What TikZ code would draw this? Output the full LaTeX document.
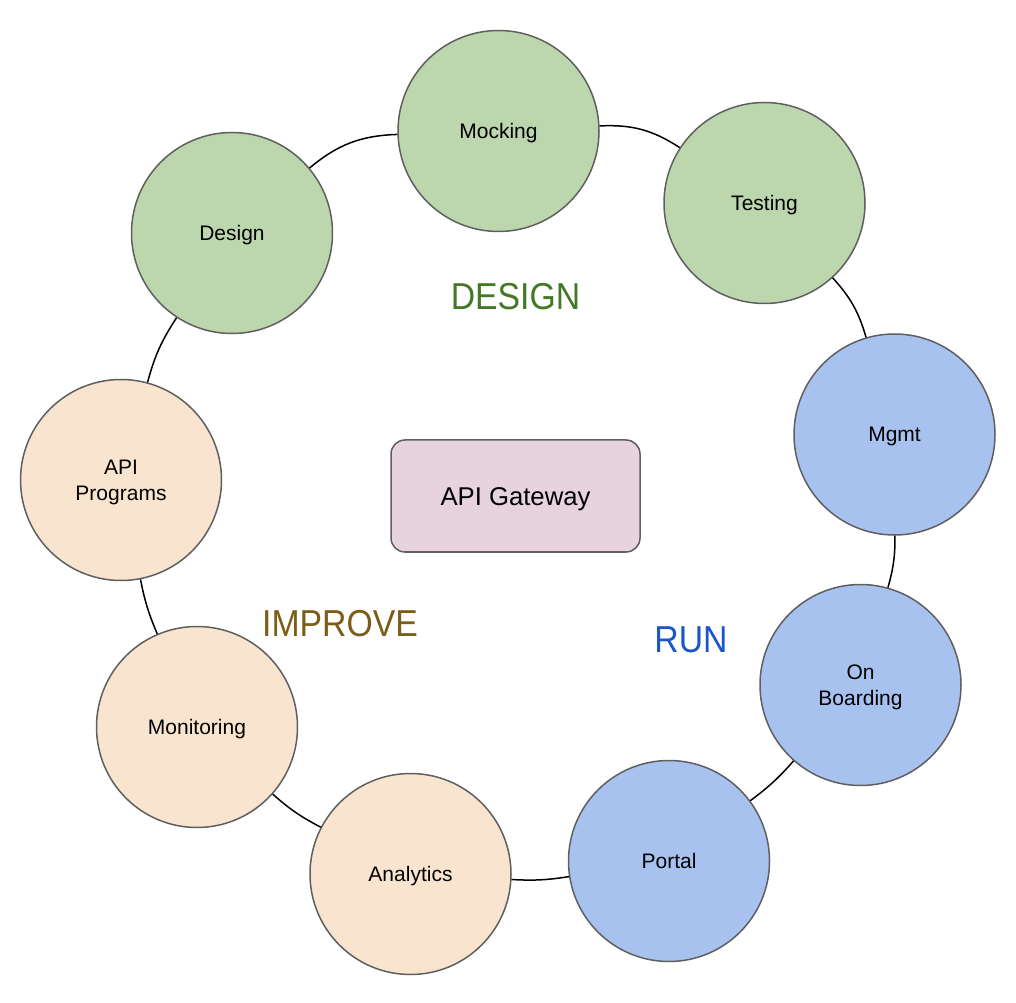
\documentclass[tikz,border=0pt]{standalone}
\usepackage{fontspec}
\setmainfont{Liberation Sans}
\newfontfamily\headfont[FakeStretch=0.9]{Liberation Sans}
\definecolor{grnfill}{HTML}{BCD6AD}
\definecolor{blufill}{HTML}{A8C2F0}
\definecolor{orgfill}{HTML}{F9E5CF}
\definecolor{magfill}{HTML}{E7D3DE}
\definecolor{edge}{HTML}{5F5F5F}
\definecolor{grntext}{HTML}{427826}
\definecolor{blutext}{HTML}{1A55C9}
\definecolor{brntext}{HTML}{7C5D17}
\tikzset{
  stage/.style={circle, draw=edge, line width=1.5pt, minimum size=201pt, inner sep=0pt,
    align=center, font=\fontsize{21}{25.7}\selectfont, text height=15pt, text depth=0pt},
  twoline/.style={text height=40.7pt},
  dstage/.style={stage, fill=grnfill},
  rstage/.style={stage, fill=blufill},
  istage/.style={stage, fill=orgfill},
  gate/.style={rectangle, rounded corners=14pt, draw=edge, line width=1.5pt, fill=magfill,
    minimum width=249pt, minimum height=112pt, inner sep=0pt,
    font=\fontsize{25.7}{30}\selectfont, text height=18.4pt, text depth=0pt},
  phase/.style={anchor=base, inner sep=0pt, font=\headfont\fontsize{37.5}{40}\selectfont},
  ring/.style={draw=black, line width=1.5pt}
}
\begin{document}
\begin{tikzpicture}[x=1pt,y=1pt]
\useasboundingbox (0,0) rectangle (1016,1002);
\node[dstage] (mock) at (498.5,871) {Mocking};
\node[dstage] (test) at (764.5,799) {Testing};
\node[rstage] (mgmt) at (894.5,567.5) {Mgmt};
\node[rstage, twoline] (onb) at (860.5,317) {On\\Boarding};
\node[rstage] (portal) at (669,141) {Portal};
\node[istage] (anal) at (410.5,128) {Analytics};
\node[istage] (moni) at (197,275) {Monitoring};
\node[istage, twoline] (prog) at (121,522) {API\\Programs};
\node[dstage] (design) at (232,769) {Design};
\node[gate] (gw) at (515.5,506) {API Gateway};
\path[ring] (design) to[bend left=19] (mock);
\path[ring] (mock) to[bend left=18] (test);
\path[ring] (test) to[bend left=13] (mgmt);
\path[ring] (mgmt) to[bend left=8] (onb);
\path[ring] (onb) to[bend left=6] (portal);
\path[ring] (portal) to[bend left=6] (anal);
\path[ring] (anal) to[bend left=7] (moni);
\path[ring] (moni) to[bend left=6] (prog);
\path[ring] (prog) to[bend left=9] (design);
\node[phase, text=grntext] (tdesign) at (515.5,692) {DESIGN};
\node[phase, text=blutext] (trun) at (691,349.3) {RUN};
\node[phase, text=brntext] (timprove) at (340,365.3) {IMPROVE};
\end{tikzpicture}
\end{document}
